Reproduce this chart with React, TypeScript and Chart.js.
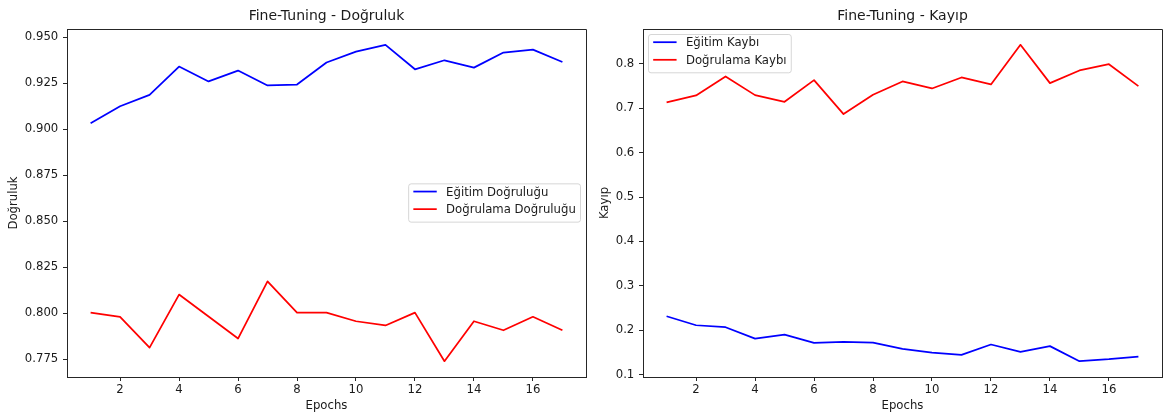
import React, { useEffect, useRef } from "react";
import { Chart, registerables } from "chart.js";

Chart.register(...registerables);

// Epoch indices shared by both panels
const epochs = [1, 2, 3, 4, 5, 6, 7, 8, 9, 10, 11, 12, 13, 14, 15, 16, 17];

// Accuracy per epoch
const trainAcc = [
  0.9032, 0.9124, 0.9186, 0.934, 0.9259, 0.9318, 0.9237, 0.9242, 0.9362,
  0.9421, 0.9458, 0.9325, 0.9374, 0.9334, 0.9416, 0.9432, 0.9365,
];
const valAcc = [
  0.8003, 0.798, 0.7813, 0.8101, 0.7982, 0.7862, 0.8173, 0.8003, 0.8003,
  0.7956, 0.7933, 0.8003, 0.7739, 0.7956, 0.7907, 0.798, 0.7907,
];

// Loss per epoch
const trainLoss = [
  0.2313, 0.211, 0.2065, 0.181, 0.19, 0.1712, 0.1734, 0.172, 0.1577, 0.1495,
  0.1441, 0.1676, 0.151, 0.164, 0.13, 0.1345, 0.1405,
];
const valLoss = [
  0.7133, 0.7291, 0.7718, 0.7298, 0.7148, 0.7636, 0.687, 0.7305, 0.7606,
  0.7448, 0.7696, 0.7538, 0.8432, 0.7568, 0.7854, 0.7995, 0.75,
];

// Tick labels
const epochTicks = [2, 4, 6, 8, 10, 12, 14, 16];
const accTicks = [0.775, 0.8, 0.825, 0.85, 0.875, 0.9, 0.925, 0.95];
const lossTicks = [0.1, 0.2, 0.3, 0.4, 0.5, 0.6, 0.7, 0.8];

const FONT = "'DejaVu Sans', sans-serif";
const INK = "#1a1a1a";
const SPINE = "#262626";
const FS = 11.7;

// Axis limits with a 5% margin on each side of the data
function paddedRange(values: number[]) {
  const lo = Math.min(...values);
  const hi = Math.max(...values);
  const pad = (hi - lo) * 0.05;
  return { min: lo - pad, max: hi + pad };
}

function align(px: number) {
  return Math.round(px - 0.5) + 0.5;
}

// Closes the plot box on the top and right sides
const framePlugin = {
  id: "frame",
  afterDatasetsDraw(chart: any) {
    const { ctx, chartArea: a } = chart;
    ctx.save();
    ctx.strokeStyle = SPINE;
    ctx.lineWidth = 1;
    ctx.beginPath();
    const l = align(a.left);
    const r = align(a.right);
    const t = align(a.top);
    const b = align(a.bottom);
    ctx.moveTo(l, t);
    ctx.lineTo(r, t);
    ctx.lineTo(r, b);
    ctx.stroke();
    ctx.restore();
  },
};

// Legend drawn inside the plot area
const innerLegendPlugin = {
  id: "innerLegend",
  afterDraw(chart: any, _args: any, opts: any) {
    const { ctx, chartArea: a } = chart;
    const items = chart.data.datasets.map((d: any) => ({
      text: d.label as string,
      color: d.borderColor as string,
    }));
    ctx.save();
    ctx.font = `${FS}px ${FONT}`;
    const textW = Math.max(...items.map((it: any) => ctx.measureText(it.text).width));
    const pad = 0.4 * FS;
    const handle = 2 * FS;
    const gap = 0.8 * FS;
    const rowGap = 17.6;
    const w = pad + handle + gap + textW + pad;
    const h = 38.3;
    const inset = 5.5;
    let x = a.left + inset;
    let y = a.top + inset;
    if (opts.where === "right") {
      x = a.right - inset - w;
      y = (a.top + a.bottom) / 2 - h / 2;
    }
    ctx.beginPath();
    ctx.roundRect(x, y, w, h, 2.5);
    ctx.fillStyle = "rgba(255,255,255,0.8)";
    ctx.fill();
    ctx.strokeStyle = "rgba(204,204,204,0.8)";
    ctx.lineWidth = 1;
    ctx.stroke();
    items.forEach((it: any, i: number) => {
      const ly = y + 7.7 + i * rowGap;
      ctx.beginPath();
      ctx.strokeStyle = it.color;
      ctx.lineWidth = 1.75;
      ctx.moveTo(x + pad, ly);
      ctx.lineTo(x + pad + handle, ly);
      ctx.stroke();
      ctx.fillStyle = INK;
      ctx.textBaseline = "alphabetic";
      ctx.textAlign = "left";
      ctx.fillText(it.text, x + pad + handle + gap, ly + 0.365 * FS);
    });
    ctx.restore();
  },
};

type PanelProps = {
  width: number;
  title: string;
  yTitle: string;
  yTitlePad: number;
  yAxisWidth: number;
  rightPad: number;
  yTicks: number[];
  decimals: number;
  series: { label: string; values: number[]; color: string }[];
  legendWhere: "right" | "topLeft";
};

function Panel(props: PanelProps) {
  const ref = useRef<HTMLCanvasElement | null>(null);

  useEffect(() => {
    const canvas = ref.current;
    if (!canvas) return;
    const yRange = paddedRange(props.series.flatMap((s) => s.values));
    const xRange = paddedRange(epochs);
    const tickFont = { family: FONT, size: FS };

    const chart = new Chart(canvas, {
      type: "line",
      data: {
        datasets: props.series.map((s) => ({
          label: s.label,
          data: epochs.map((e, i) => ({ x: e, y: s.values[i] })),
          borderColor: s.color,
          backgroundColor: s.color,
          borderWidth: 1.75,
          pointRadius: 0,
          tension: 0,
          fill: false,
          borderJoinStyle: "round" as const,
        })),
      },
      options: {
        responsive: false,
        animation: false,
        events: [],
        layout: { padding: { left: 0, right: props.rightPad, top: 0, bottom: 0 } },
        plugins: {
          legend: { display: false },
          tooltip: { enabled: false },
          title: {
            display: true,
            text: props.title,
            fullSize: false,
            color: INK,
            font: { family: FONT, size: 14, weight: "normal" as any, lineHeight: 1.2 },
            padding: { top: 8, bottom: 4.2 },
          },
          innerLegend: { where: props.legendWhere },
        } as any,
        scales: {
          x: {
            type: "linear",
            min: xRange.min,
            max: xRange.max,
            afterBuildTicks: (scale: any) => {
              scale.ticks = epochTicks.map((v) => ({ value: v }));
            },
            afterFit: (scale: any) => {
              scale.height = 39;
            },
            ticks: {
              color: INK,
              font: tickFont,
              padding: 1.5,
              maxRotation: 0,
              autoSkip: false,
              callback: (v: any) => String(v),
            },
            grid: {
              display: true,
              drawOnChartArea: false,
              drawTicks: true,
              tickLength: 4,
              tickColor: SPINE,
              lineWidth: 1,
            },
            border: { display: true, color: SPINE, width: 1 },
            title: {
              display: true,
              text: "Epochs",
              color: INK,
              font: { family: FONT, size: FS, lineHeight: 1.2 },
              padding: { top: 0, bottom: 3 },
            },
          },
          y: {
            type: "linear",
            min: yRange.min,
            max: yRange.max,
            afterBuildTicks: (scale: any) => {
              scale.ticks = props.yTicks.map((v) => ({ value: v }));
            },
            afterFit: (scale: any) => {
              scale.width = props.yAxisWidth;
            },
            ticks: {
              color: INK,
              font: tickFont,
              padding: 4.7,
              autoSkip: false,
              callback: (v: any) => Number(v).toFixed(props.decimals),
            },
            grid: {
              display: true,
              drawOnChartArea: false,
              drawTicks: true,
              tickLength: 4,
              tickColor: SPINE,
              lineWidth: 1,
            },
            border: { display: true, color: SPINE, width: 1 },
            title: {
              display: true,
              text: props.yTitle,
              color: INK,
              font: { family: FONT, size: FS, lineHeight: 1.2 },
              padding: { top: props.yTitlePad, bottom: 0 },
            },
          },
        },
      },
      plugins: [framePlugin, innerLegendPlugin],
    });

    return () => chart.destroy();
  }, []);

  return <canvas ref={ref} width={props.width} height={416} style={{ display: "block" }} />;
}

export default function App() {
  return (
    <div
      style={{
        position: "fixed",
        left: 0,
        top: 0,
        width: 1165,
        height: 416,
        background: "#fff",
        display: "flex",
      }}
    >
      <Panel
        width={590}
        title="Fine-Tuning - Doğruluk"
        yTitle="Doğruluk"
        yTitlePad={7}
        yAxisWidth={67}
        rightPad={4}
        yTicks={accTicks}
        decimals={3}
        series={[
          { label: "Eğitim Doğruluğu", values: trainAcc, color: "#0000ff" },
          { label: "Doğrulama Doğruluğu", values: valAcc, color: "#ff0000" },
        ]}
        legendWhere="right"
      />
      <Panel
        width={575}
        title="Fine-Tuning - Kayıp"
        yTitle="Kayıp"
        yTitlePad={8}
        yAxisWidth={53}
        rightPad={3}
        yTicks={lossTicks}
        decimals={1}
        series={[
          { label: "Eğitim Kaybı", values: trainLoss, color: "#0000ff" },
          { label: "Doğrulama Kaybı", values: valLoss, color: "#ff0000" },
        ]}
        legendWhere="topLeft"
      />
    </div>
  );
}
